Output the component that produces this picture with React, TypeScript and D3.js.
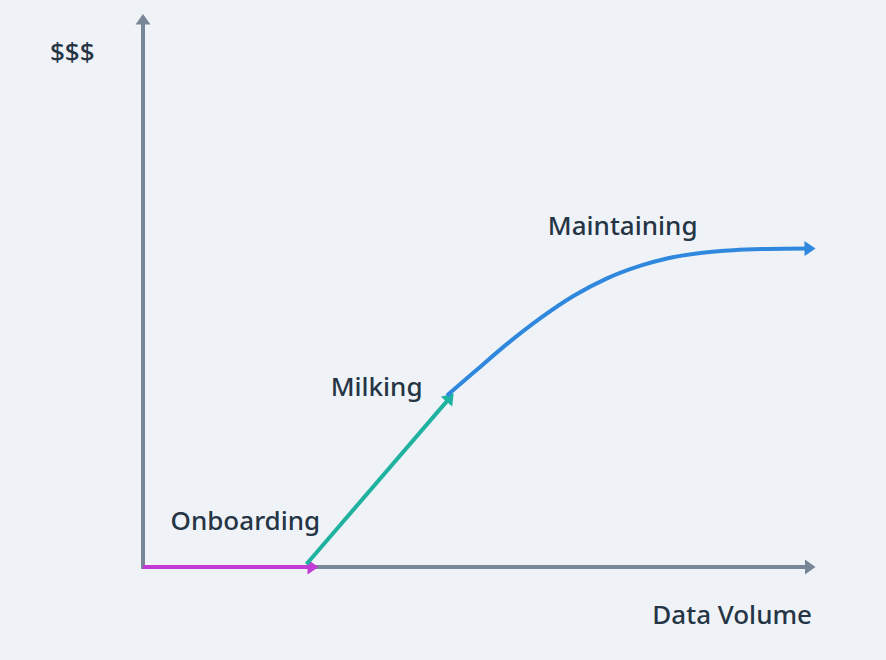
import React from "react";
import * as d3 from "d3";

const W = 886;
const H = 660;

// Data in abstract units (x: data volume 0..100, y: $$$ 0..100)
const onboarding: [number, number][] = [[0, 0], [26.1, 0]];
const milking: [number, number][] = [[24.3, 0.5], [46.2, 31.4]];
const maintaining: [number, number][] = [
  [45.2, 31.0], [49.2, 35.2], [54.1, 40.3], [59.1, 45.0], [64.0, 49.0],
  [69.0, 52.2], [74.0, 54.5], [77.9, 55.8], [82.9, 56.8], [87.8, 57.3],
  [92.8, 57.5], [100, 57.6],
];
const stageLabels = ["Onboarding", "Milking", "Maintaining"];
const labelPos: [number, number][] = [[4.1, 6.7], [27.9, 31.0], [60.2, 60.1]];
const axisLabels = { x: "Data Volume", y: "$$$" };

const COLORS = {
  bg: "#eff3f7",
  axis: "#788797",
  text: "#253545",
  onboarding: "#c23bd6",
  milking: "#1fb2a0",
  maintaining: "#2f88dd",
};

const x = d3.scaleLinear().domain([0, 100]).range([143, 815.5]);
const y = d3.scaleLinear().domain([0, 100]).range([567, 14]);

function arrowHead(p0: [number, number], p1: [number, number], len = 11, half = 7.5) {
  const [x0, y0] = p0;
  const [x1, y1] = p1;
  const a = Math.atan2(y1 - y0, x1 - x0);
  const bx = x1 - len * Math.cos(a);
  const by = y1 - len * Math.sin(a);
  const px = -Math.sin(a) * half;
  const py = Math.cos(a) * half;
  return `M${x1},${y1}L${bx + px},${by + py}L${bx - px},${by - py}Z`;
}

function shorten(p0: [number, number], p1: [number, number], d: number): [number, number] {
  const a = Math.atan2(p1[1] - p0[1], p1[0] - p0[0]);
  return [p1[0] - d * Math.cos(a), p1[1] - d * Math.sin(a)];
}

export default function App() {
  const toPx = (pts: [number, number][]) => pts.map(([a, b]) => [x(a), y(b)] as [number, number]);
  const line = d3.line().curve(d3.curveMonotoneX);

  const series = [
    { pts: toPx(onboarding), color: COLORS.onboarding },
    { pts: toPx(milking), color: COLORS.milking },
    { pts: toPx(maintaining), color: COLORS.maintaining },
  ];

  const xAxisPts: [number, number][] = [[x(0) - 2, y(0)], [x(100), y(0)]];
  const yAxisPts: [number, number][] = [[x(0), y(0) + 2], [x(0), y(100)]];

  const font = "'Noto Sans', sans-serif";

  return (
    <svg width={W} height={H} style={{ position: "fixed", left: 0, top: 0 }}>
      <rect width={W} height={H} fill={COLORS.bg} />
      {[xAxisPts, yAxisPts].map((p, i) => {
        const end = shorten(p[0], p[1], 8);
        return (
          <g key={"ax" + i}>
            <path d={`M${p[0][0]},${p[0][1]}L${end[0]},${end[1]}`} stroke={COLORS.axis} strokeWidth={4} fill="none" />
            <path d={arrowHead(p[0], p[1], 10.5, 7.5)} fill={COLORS.axis} />
          </g>
        );
      })}
      {series.map((s, i) => {
        const n = s.pts.length;
        const pts = s.pts.slice();
        const tip = pts[n - 1];
        const prev = n > 2 ? pts[n - 2] : pts[0];
        pts[n - 1] = shorten(prev, tip, 8);
        return (
          <g key={"s" + i}>
            <path d={line(pts) || ""} stroke={s.color} strokeWidth={4} fill="none" strokeLinecap="butt" />
            <path d={arrowHead(prev, tip)} fill={s.color} />
          </g>
        );
      })}
      {stageLabels.map((t, i) => (
        <text key={t} x={x(labelPos[i][0])} y={y(labelPos[i][1])} fill={COLORS.text}
          fontFamily={font} fontSize={26} fontWeight={500}>{t}</text>
      ))}
      <text x={50} y={61} fill={COLORS.text} fontFamily={font} fontSize={26} fontWeight={500}>{axisLabels.y}</text>
      <text x={812} y={624} textAnchor="end" fill={COLORS.text} fontFamily={font} fontSize={26} fontWeight={500}>{axisLabels.x}</text>
    </svg>
  );
}
